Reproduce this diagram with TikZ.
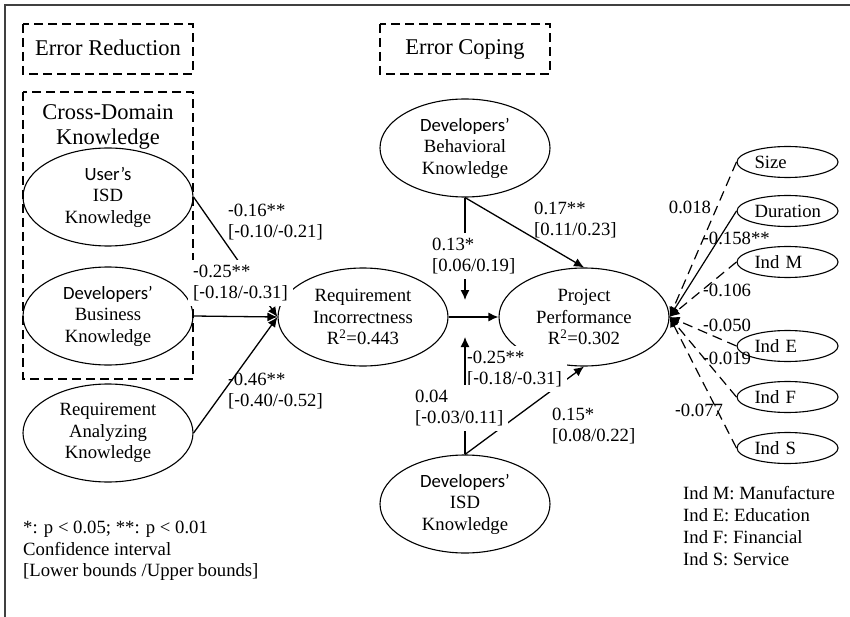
\documentclass[tikz,border=0pt]{standalone}
\usepackage{fontspec}
\setmainfont{Liberation Serif}
\newfontfamily\carl{Carlito}
\usetikzlibrary{shapes.geometric,arrows.meta}
\newcommand\mn{{\carl -}}
\begin{document}
\begin{tikzpicture}[x=1pt,y=-1pt,
  every node/.style={font=\fontsize{18.7}{21.5}\selectfont},
  bigell/.style={ellipse,draw,line width=1.1pt,minimum width=170pt,minimum height=98pt,inner sep=0pt,align=center},
  ctl/.style={ellipse,draw,line width=1.1pt,minimum width=101pt,minimum height=31pt,inner sep=0pt,text width=66pt,align=left},
  dbox/.style={draw,line width=1.1pt,dash pattern=on 9pt off 5pt},
  ahead/.style={-{Latex[length=10pt,width=9pt]}},
  arr/.style={line width=1.3pt,ahead},
  darr/.style={line width=1.2pt,dash pattern=on 10pt off 6pt,ahead},
  lab/.style={align=left,inner sep=0pt,anchor=west},
  wlab/.style={align=left,inner sep=5pt,anchor=west,fill=white},
  ttl/.style={font=\fontsize{22.5}{25}\selectfont,align=center,inner sep=0pt}
]
\useasboundingbox (0,0) rectangle (850,617);
% frame
\draw[line width=1.5pt,black!75] (5,617) -- (5,5) -- (850,5);
% dashed boxes
\draw[dbox] (23,24) rectangle (193,74);
\node[ttl] (er) at (108,48) {Error Reduction};
\draw[dbox] (380,24) rectangle (550,74);
\node[ttl,anchor=base] (ec) at (465,55) {Error Coping};
\draw[dbox] (23,92) rectangle (193,379);
\node[ttl] (cdk) at (108,127) {Cross-Domain\\Knowledge};
% ellipses
\node[bigell] (uisd) at (108,197) {{\carl User’s}\\ISD\\Knowledge};
\node[bigell] (bk) at (108,316) {{\carl Developers’}\\Business\\Knowledge};
\node[bigell] (rak) at (108,433) {Requirement\\Analyzing\\Knowledge};
\node[bigell] (ri) at (363,317) {Requirement\\Incorrectness\\R\textsuperscript{2}=0.443};
\node[bigell] (pp) at (584,317) {Project\\Performance\\R\textsuperscript{2}=0.302};
\node[bigell] (dbk) at (465,148) {{\carl Developers’}\\Behavioral\\Knowledge};
\node[bigell] (disd) at (465,504) {{\carl Developers’}\\ISD\\Knowledge};
% control ellipses
\node[ctl] (size) at (787.5,162) {Size};
\node[ctl] (dur) at (787.5,211) {Duration};
\node[ctl] (indm) at (787.5,262) {Ind M};
\node[ctl] (inde) at (787.5,346) {Ind E};
\node[ctl] (indf) at (787.5,397) {Ind F};
\node[ctl] (inds) at (787.5,448) {Ind S};
\coordinate (m1) at (465,300);
\coordinate (m2) at (465,337);
% connectors
\draw[arr] (uisd.east) -- (ri.west);
\draw[arr] (bk.east) -- (ri.west);
\draw[arr] (rak.east) -- (ri.west);
\draw[arr] (ri.east) -- (pp.west);
\draw[arr] (dbk.south) -- (pp.north);
\draw[arr] (dbk.south) -- (m1);
\draw[arr] (disd.north) -- (pp.south);
\draw[darr] (size.west) -- (pp.east);
\draw[arr,line width=1.2pt] (dur.west) -- (pp.east);
\draw[darr] (indm.west) -- (pp.east);
\draw[darr] (inde.west) -- (pp.east);
\draw[darr] (indf.west) -- (pp.east);
\draw[darr] (inds.west) -- (pp.east);
% label over the lower moderating line
\node[wlab] (l25b) at (462,369) {\mn0.25**\\{[}\mn0.18/\mn0.31]};
\draw[arr] (disd.north) -- (m2);
% path labels
\node[lab] (l16) at (228,222) {\mn0.16**\\{[}\mn0.10/\mn0.21]};
\node[wlab] (l25a) at (188,283) {\mn0.25**\\{[}\mn0.18/\mn0.31]};
\node[lab] (l46) at (228,391) {\mn0.46**\\{[}\mn0.40/\mn0.52]};
\node[lab] (l17) at (534,220) {0.17**\\{[}0.11/0.23]};
\node[wlab] (l13) at (427,256) {0.13*\\{[}0.06/0.19]};
\node[wlab] (l04) at (410,408) {0.04\\{[}\mn0.03/0.11]};
\node[lab] (l15) at (552,426) {0.15*\\{[}0.08/0.22]};
% control labels
\node[inner sep=0pt] (c1) at (690,207) {0.018};
\node[lab] (c2) at (703,238) {\mn0.158**};
\node[lab] (c3) at (703,290) {\mn0.106};
\node[lab] (c4) at (703,325) {\mn0.050};
\node[lab] (c5) at (703,358) {\mn0.019};
\node[lab] (c6) at (675,410) {\mn0.077};
% legends
\node[lab] (leg1) at (23,551) {*: p < 0.05; **: p < 0.01\\Confidence interval\\{[}Lower bounds /Upper bounds]};
\node[lab,font=\fontsize{18.7}{22}\selectfont] (leg2) at (683,526) {Ind M: Manufacture\\Ind E: Education\\Ind F: Financial\\Ind S: Service};
\end{tikzpicture}
\end{document}
